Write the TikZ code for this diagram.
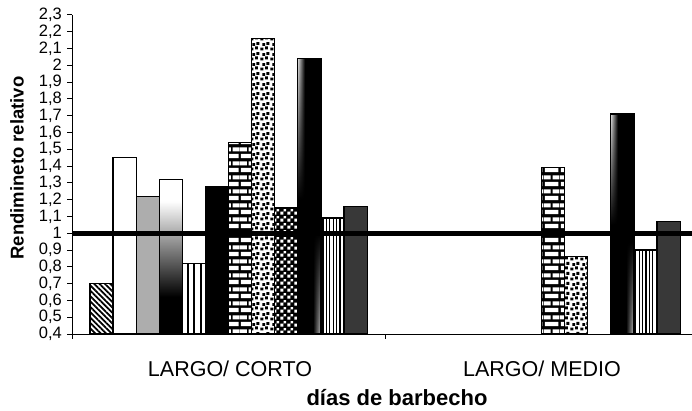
\documentclass[tikz,border=0pt]{standalone}
\usepackage{fontspec}
\setmainfont{Liberation Sans}
\usetikzlibrary{patterns,patterns.meta,fadings}

% fills used by the bars
\pgfdeclarepatternformonly{brickwall}{\pgfqpoint{0pt}{0pt}}{\pgfqpoint{16pt}{14pt}}{\pgfqpoint{16pt}{14pt}}{
  \pgfpathrectangle{\pgfqpoint{1pt}{1pt}}{\pgfqpoint{14pt}{4.5pt}}
  \pgfpathrectangle{\pgfqpoint{0pt}{8pt}}{\pgfqpoint{7pt}{4.5pt}}
  \pgfpathrectangle{\pgfqpoint{9pt}{8pt}}{\pgfqpoint{7pt}{4.5pt}}
  \pgfusepath{fill}}
\pgfdeclarepatternformonly{barconfetti}{\pgfqpoint{0pt}{0pt}}{\pgfqpoint{10pt}{10pt}}{\pgfqpoint{10pt}{10pt}}{
  \pgfpathrectangle{\pgfqpoint{0.4pt}{0.6pt}}{\pgfqpoint{3.1pt}{3.1pt}}
  \pgfpathrectangle{\pgfqpoint{5.4pt}{1.9pt}}{\pgfqpoint{3.1pt}{3.1pt}}
  \pgfpathrectangle{\pgfqpoint{2.4pt}{5.5pt}}{\pgfqpoint{3.1pt}{3.1pt}}
  \pgfpathrectangle{\pgfqpoint{6.9pt}{6.7pt}}{\pgfqpoint{3.1pt}{3.1pt}}
  \pgfusepath{fill}}
\pgfdeclarepatternformonly{barchecks}{\pgfqpoint{0pt}{0pt}}{\pgfqpoint{7pt}{7pt}}{\pgfqpoint{7pt}{7pt}}{
  \pgfpathrectangle{\pgfqpoint{0.4pt}{0.4pt}}{\pgfqpoint{3.3pt}{3.3pt}}
  \pgfpathrectangle{\pgfqpoint{4.1pt}{4.1pt}}{\pgfqpoint{2.6pt}{2.6pt}}
  \pgfusepath{fill}}
\pgfdeclareverticalshading{fadetop}{100bp}{color(0bp)=(black); color(37bp)=(black); color(68bp)=(white); color(100bp)=(white)}
\pgfdeclarehorizontalshading{glintleft}{100bp}{color(0bp)=(white!85!black); color(25bp)=(white!85!black); color(40bp)=(black); color(100bp)=(black)}
\pgfdeclarehorizontalshading{glintright}{100bp}{color(0bp)=(black); color(58bp)=(black); color(75bp)=(white!75!black); color(100bp)=(white!75!black)}

\tikzset{
  bar/.style={draw=black, line width=1.2pt},
  ticklabel/.style={anchor=east, inner sep=0pt, font=\fontsize{16.5}{16.5}\selectfont},
  catlabel/.style={anchor=base, inner sep=0pt, font=\fontsize{21.5}{21.5}\selectfont},
  axistitle/.style={inner sep=0pt, font=\bfseries\fontsize{21}{21}\selectfont}
}

\begin{document}
\begin{tikzpicture}[x=1pt, y=1pt]
    \useasboundingbox (0,0) rectangle (692,410);

    \begin{scope}[yshift=8.8pt, y=168pt]
    % Draw the bars of LARGO/ CORTO
    \draw[bar, pattern={Lines[angle=-45,distance=3.8pt,line width=1.8pt]}] (89.9,0.4) rectangle (113.0,0.70);
    \draw[bar, fill=white] (113.0,0.4) rectangle (136.1,1.45);
    \draw[bar, fill=black!32] (136.1,0.4) rectangle (159.2,1.22);
    \draw[bar, shading=fadetop] (159.2,0.4) rectangle (182.3,1.32);
    \draw[bar, pattern={Lines[angle=90,distance=6.7pt,line width=2pt]}] (182.3,0.4) rectangle (205.4,0.82);
    \draw[bar, fill=black] (205.4,0.4) rectangle (228.5,1.28);
    \draw[bar, preaction={fill=black}, pattern=brickwall, pattern color=white] (228.5,0.4) rectangle (251.6,1.54);
    \draw[bar, pattern=barconfetti] (251.6,0.4) rectangle (274.7,2.16);
    \draw[bar, preaction={fill=black}, pattern=barchecks, pattern color=white] (274.7,0.4) rectangle (297.8,1.15);
    \fill[black] (297.8,0.4) rectangle (320.9,2.04);
    \shade[shading=glintleft, path fading=south] (297.8,1.2) rectangle (320.9,2.04);
    \shade[shading=glintright, path fading=north] (297.8,0.4) rectangle (320.9,1.0);
    \draw[bar] (297.8,0.4) rectangle (320.9,2.04);
    \draw[bar, pattern={Lines[angle=90,distance=3.4pt,line width=1.3pt]}] (320.9,0.4) rectangle (344.0,1.09);
    \draw[bar, fill=black!78] (344.0,0.4) rectangle (367.1,1.16);

    % Draw the bars of LARGO/ MEDIO
    \draw[bar, preaction={fill=black}, pattern=brickwall, pattern color=white] (541.5,0.4) rectangle (564.6,1.39);
    \draw[bar, pattern=barconfetti] (564.6,0.4) rectangle (587.7,0.86);
    \fill[black] (610.8,0.4) rectangle (633.9,1.71);
    \shade[shading=glintleft, path fading=south] (610.8,1.05) rectangle (633.9,1.71);
    \shade[shading=glintright, path fading=north] (610.8,0.4) rectangle (633.9,0.95);
    \draw[bar] (610.8,0.4) rectangle (633.9,1.71);
    \draw[bar, pattern={Lines[angle=90,distance=3.4pt,line width=1.3pt]}] (633.9,0.4) rectangle (657.0,0.90);
    \draw[bar, fill=black!78] (657.0,0.4) rectangle (680.1,1.07);

    % Draw the axes
    \coordinate (o) at (72,0.4);
    \coordinate (top) at (72,2.3);
    \coordinate (xend) at (692,0.4);
    \draw[line width=0.8pt] (top) -- (o) -- (xend);
    \draw[line width=0.8pt] (o) -- ++(0,-5pt);
    \draw[line width=0.8pt] (385,0.4) -- ++(0,-5pt);
    \foreach \v/\t [count=\i] in {0.4/{0,4},0.5/{0,5},0.6/{0,6},0.7/{0,7},0.8/{0,8},0.9/{0,9},1/1,
        1.1/{1,1},1.2/{1,2},1.3/{1,3},1.4/{1,4},1.5/{1,5},1.6/{1,6},1.7/{1,7},1.8/{1,8},1.9/{1,9},2/2,
        2.1/{2,1},2.2/{2,2},2.3/{2,3}} {
        \draw[line width=0.8pt] (72,\v) -- (67,\v);
        \node[ticklabel] (tick\i) at (62,\v) {\t};
    }

    % Draw the line at 1
    \coordinate (ref0) at (72,1);
    \coordinate (ref1) at (692,1);
    \draw[line width=5pt] (ref0) -- (ref1);
    \end{scope}

    % Labels
    \node[catlabel] (corto) at (230,33.3) {LARGO/ CORTO};
    \node[catlabel] (medio) at (542,33.3) {LARGO/ MEDIO};
    \node[axistitle, anchor=base, font=\bfseries\fontsize{22}{22}\selectfont] (xtitle) at (397,5) {días de barbecho};
    \node[axistitle, rotate=90, font=\bfseries\fontsize{18.5}{18.5}\selectfont] (ytitle) at (17,242) {Rendimineto relativo};
\end{tikzpicture}
\end{document}
